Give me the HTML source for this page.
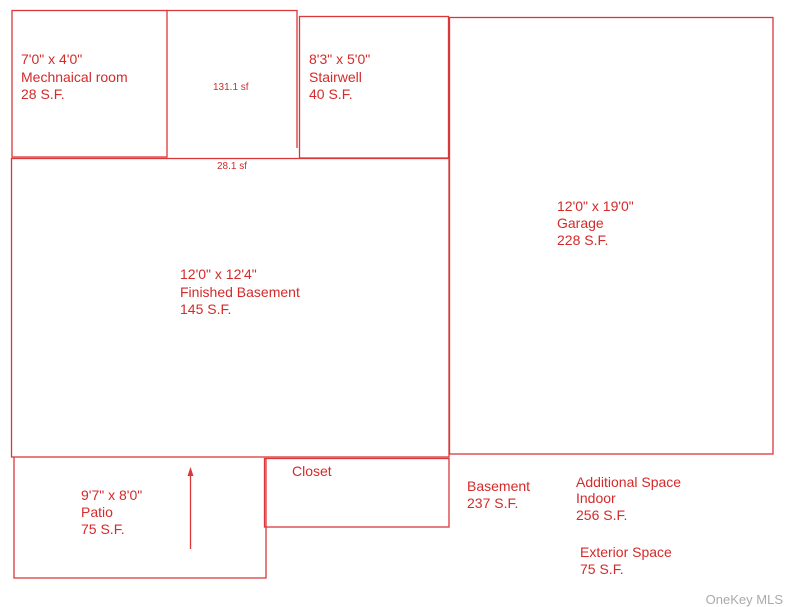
<!DOCTYPE html>
<html><head><style>body{margin:0;background:#fff;}</style></head>
<body>
<svg width="787" height="607" viewBox="0 0 787 607" xmlns="http://www.w3.org/2000/svg" style="display:block">
<g fill="none" stroke="#d8383a" stroke-width="1.3">
<rect x="12" y="10.5" width="155" height="146.5"/>
<polyline points="167,10.5 297,10.5 297,148"/>
<rect x="299.5" y="16.5" width="149" height="141.5"/>
<rect x="449.5" y="17.5" width="323.5" height="436.5"/>
<rect x="11.5" y="158.5" width="437.5" height="298.5"/>
<polyline points="14,457 14,578 266,578 266,458"/>
<rect x="264.5" y="458.5" width="184.5" height="68.5"/>
<line x1="190.5" y1="549" x2="190.5" y2="474"/>
</g>
<polygon points="190.5,467 187.5,476 193.5,476" fill="#d8383a"/>
<g fill="#d42a2a" font-family="Liberation Sans, sans-serif" font-size="14">
<text x="21" y="64">7'0" x 4'0"</text><text x="21" y="82">Mechnaical room</text><text x="21" y="99">28 S.F.</text>
<text x="309" y="64">8'3" x 5'0"</text><text x="309" y="82">Stairwell</text><text x="309" y="99">40 S.F.</text>
<text x="557" y="211">12'0" x 19'0"</text><text x="557" y="228">Garage</text><text x="557" y="245">228 S.F.</text>
<text x="180" y="279">12'0" x 12'4"</text><text x="180" y="297">Finished Basement</text><text x="180" y="314">145 S.F.</text>
<text x="81" y="500">9'7" x 8'0"</text><text x="81" y="517">Patio</text><text x="81" y="534">75 S.F.</text>
<text x="292" y="476">Closet</text>
<text x="467" y="491">Basement</text><text x="467" y="508">237 S.F.</text>
<text x="576" y="487">Additional Space</text><text x="576" y="503">Indoor</text><text x="576" y="520">256 S.F.</text>
<text x="580" y="557">Exterior Space</text><text x="580" y="574">75 S.F.</text>
<text x="213" y="90" font-size="10">131.1 sf</text>
<text x="217" y="169" font-size="10">28.1 sf</text>
</g>
<text x="783" y="604" text-anchor="end" fill="#aaa" font-family="Liberation Sans, sans-serif" font-size="13">OneKey MLS</text>
</svg>
</body></html>
